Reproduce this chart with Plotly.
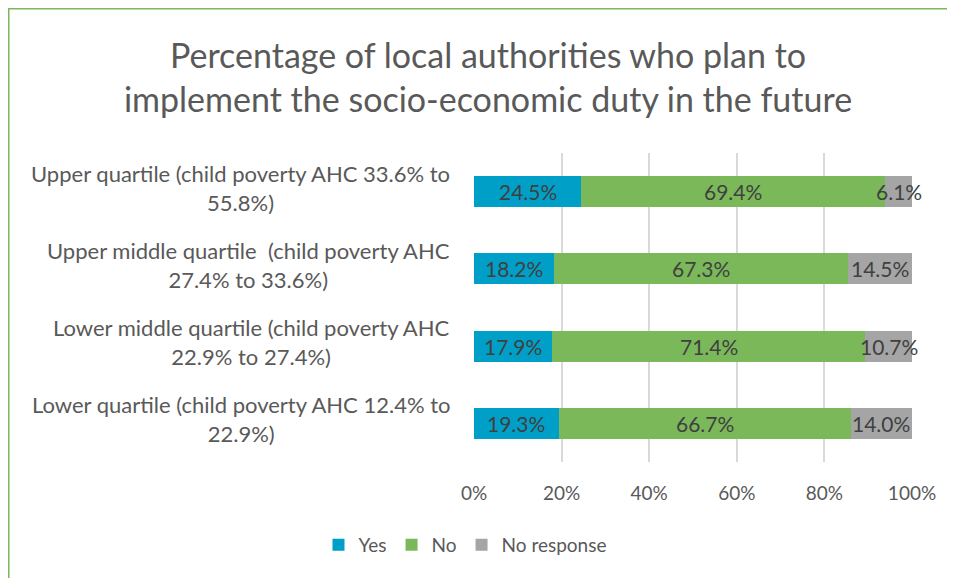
import plotly.graph_objects as go

categories = [
    "Upper quartile (child poverty AHC 33.6% to<br>55.8%)",
    "Upper middle quartile  (child poverty AHC<br>27.4% to 33.6%)",
    "Lower middle quartile (child poverty AHC<br>22.9% to 27.4%)",
    "Lower quartile (child poverty AHC 12.4% to<br>22.9%)",
]
yes_vals = [24.5, 18.2, 17.9, 19.3]
no_vals = [69.4, 67.3, 71.4, 66.7]
noresp_vals = [6.1, 14.5, 10.7, 14.0]
series_names = ["Yes", "No", "No response"]
colors = ["#009FC7", "#7AB85A", "#A5A5A5"]
tick_vals = [0, 20, 40, 60, 80, 100]
tick_text = ["0%", "20%", "40%", "60%", "80%", "100%"]

FONT = "Lato"
OFF = 8  # browser body margin
W, H = 955 - OFF, 578 - OFF
L = 474 - OFF
R = W - (912 - OFF)
T = 153 - OFF
B = H - (462 - OFF)
pw = W - L - R
ph = H - T - B

fig = go.Figure()
all_series = [yes_vals, no_vals, noresp_vals]
for name, vals, col in zip(series_names, all_series, colors):
    fig.add_trace(go.Bar(
        y=categories, x=vals, name=name, orientation="h",
        marker=dict(color=col, line=dict(width=0)),
        hoverinfo="x+name",
    ))

annotations = []
# data labels centred on each segment (positions from data via axis scale)
for i, c in enumerate(categories):
    base = 0.0
    for vals in all_series:
        v = vals[i]
        annotations.append(dict(
            x=base + v / 2, y=c, xref="x", yref="y",
            text=f"{v:.1f}%", showarrow=False,
            xanchor="center", yanchor="middle",
            font=dict(family=FONT, size=21, color="#404040"),
        ))
        base += v

for c in categories:
    annotations.append(dict(
        x=(452 - OFF - L) / pw, y=c, xref="paper", yref="y",
        text=c, showarrow=False, xanchor="right", yanchor="middle",
        yshift=4, align="center",
        font=dict(family=FONT, size=22, color="#595959"),
    ))

fig.update_layout(
    width=W, height=H,
    margin=dict(l=L, r=R, t=T, b=B),
    barmode="stack", bargap=0.6,
    paper_bgcolor="white", plot_bgcolor="white",
    title=dict(
        text="Percentage of local authorities who plan to<br>implement the socio-economic duty in the future",
        x=(488 - OFF) / W, xanchor="center", xref="container",
        y=1 - (68 - OFF) / H, yanchor="middle", yref="container",
        font=dict(family=FONT, size=34, color="#595959"),
    ),
    xaxis=dict(
        range=[0, 100], tickvals=tick_vals, ticktext=tick_text,
        showgrid=True, gridcolor="#D9D9D9", gridwidth=1.5,
        zeroline=False, showline=False, ticks="",
        ticklabelstandoff=18,
        tickfont=dict(family=FONT, size=19, color="#595959"),
    ),
    yaxis=dict(autorange="reversed", showticklabels=False, showgrid=False,
               zeroline=False, ticks=""),
    legend=dict(
        orientation="h", x=(465 - OFF - L) / pw, xanchor="center",
        y=-(545 - 462) / ph, yanchor="middle",
        font=dict(family=FONT, size=19, color="#595959"),
        itemwidth=30, traceorder="normal",
    ),
    annotations=annotations,
    shapes=[
        dict(type="line", xref="paper", yref="paper",
             x0=(0 - L) / pw, x1=(W - L) / pw,
             y0=1 + T / ph, y1=1 + T / ph,
             line=dict(color="#7AB85A", width=3)),
        dict(type="line", xref="paper", yref="paper",
             x0=(0 - L) / pw, x1=(0 - L) / pw,
             y0=1 + T / ph, y1=-B / ph,
             line=dict(color="#7AB85A", width=3)),
    ],
)

fig.write_html("out.html")
